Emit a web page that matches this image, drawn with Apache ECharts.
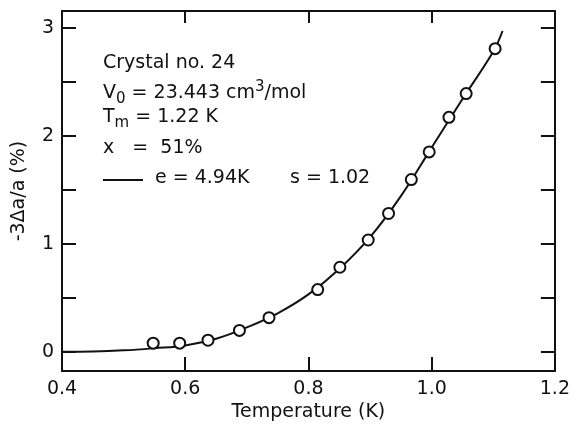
<!DOCTYPE html>
<html>
<head>
<meta charset="utf-8">
<script src="https://cdn.jsdelivr.net/npm/echarts@6/dist/echarts.min.js"></script>
<style>
  html, body { margin: 0; padding: 0; background: #fff; }
  #main { width: 573px; height: 427px; }
</style>
</head>
<body>
<div id="main"></div>
<script>
// measured points (circles)
var tempPoints = [0.548, 0.591, 0.637, 0.688, 0.736, 0.815, 0.851, 0.897, 0.930, 0.967, 0.996, 1.028, 1.056, 1.103];
var strainPoints = [0.079, 0.079, 0.106, 0.197, 0.315, 0.575, 0.782, 1.034, 1.28, 1.594, 1.85, 2.17, 2.39, 2.806];

// fitted curve
var curveT = [0.40, 0.45, 0.50, 0.55, 0.60, 0.65, 0.70, 0.75, 0.80, 0.85, 0.90, 0.95, 1.00, 1.05, 1.10, 1.115];
var curveY = [0.0, 0.002, 0.012, 0.032, 0.058, 0.12, 0.225, 0.355, 0.53, 0.765, 1.06, 1.44, 1.89, 2.34, 2.78, 2.97];

var yTicks = [0, 0.5, 1, 1.5, 2, 2.5, 3];
var yLabels = [0, 1, 2, 3];

var font = 'DejaVu Sans';
var ink = '#111';

var myChart = echarts.init(document.getElementById('main'));

function zip(a, b) {
  return a.map(function (v, i) { return [v, b[i]]; });
}

var frameLine = { onZero: false, lineStyle: { color: ink, width: 2 } };

var option = {
  backgroundColor: '#fff',
  animation: false,
  grid: { left: 62, right: 16, top: 11, bottom: 51 },
  xAxis: [
    {
      type: 'value', min: 0.4, max: 1.2, interval: 0.2,
      name: 'Temperature (K)', nameLocation: 'middle', nameGap: 27,
      nameTextStyle: { fontFamily: font, fontSize: 19, color: ink },
      axisLine: frameLine,
      axisTick: { inside: true, length: 14, lineStyle: { color: ink, width: 2 } },
      axisLabel: {
        margin: 8, fontFamily: font, fontSize: 19, color: ink,
        formatter: function (v) { return v.toFixed(1); }
      },
      splitLine: { show: false }
    },
    {
      type: 'value', position: 'top', min: 0.4, max: 1.2, interval: 0.2,
      axisLine: frameLine,
      axisTick: { inside: true, length: 12, lineStyle: { color: ink, width: 2 } },
      axisLabel: { show: false },
      splitLine: { show: false }
    }
  ],
  yAxis: [
    {
      type: 'value', min: -0.18, max: 3.155,
      name: '-3\u0394a/a (%)', nameLocation: 'middle', nameGap: 33,
      nameTextStyle: { fontFamily: font, fontSize: 19, color: ink },
      axisLine: frameLine,
      axisTick: { inside: true, length: 14, customValues: yTicks, lineStyle: { color: ink, width: 2 } },
      axisLabel: { margin: 8, fontFamily: font, fontSize: 19, color: ink, customValues: yLabels },
      splitLine: { show: false }
    },
    {
      type: 'value', position: 'right', min: -0.18, max: 3.155,
      axisLine: frameLine,
      axisTick: { inside: true, length: 14, customValues: yTicks, lineStyle: { color: ink, width: 2 } },
      axisLabel: { show: false },
      splitLine: { show: false }
    }
  ],
  series: [
    {
      type: 'line',
      data: zip(curveT, curveY),
      smooth: 0.4,
      showSymbol: false,
      lineStyle: { color: ink, width: 2 },
      z: 2
    },
    {
      type: 'scatter',
      data: zip(tempPoints, strainPoints),
      symbol: 'circle',
      symbolSize: 11,
      itemStyle: { color: '#fff', opacity: 1, borderColor: ink, borderWidth: 2 },
      z: 3
    }
  ],
  graphic: [
    {
      type: 'text', left: 103, top: 54,
      style: { text: 'Crystal no. 24', font: '19px "DejaVu Sans"', fill: ink }
    },
    {
      type: 'text', left: 103, top: 80,
      style: {
        text: '{n|V}{sub|0}{n| = 23.443 cm}{sup|3}{n|/mol}',
        fill: ink,
        rich: {
          n: { fontFamily: font, fontSize: 19, lineHeight: 27, verticalAlign: 'middle' },
          sub: { fontFamily: font, fontSize: 15, lineHeight: 27, verticalAlign: 'bottom' },
          sup: { fontFamily: font, fontSize: 15, lineHeight: 27, verticalAlign: 'top' }
        }
      }
    },
    {
      type: 'text', left: 103, top: 108,
      style: {
        text: '{n|T}{sub|m}{n| = 1.22 K}',
        fill: ink,
        rich: {
          n: { fontFamily: font, fontSize: 19, lineHeight: 27, verticalAlign: 'middle' },
          sub: { fontFamily: font, fontSize: 15, lineHeight: 27, verticalAlign: 'bottom' }
        }
      }
    },
    {
      type: 'text', left: 103, top: 139,
      style: { text: 'x   =  51%', font: '19px "DejaVu Sans"', fill: ink }
    },
    {
      type: 'line',
      shape: { x1: 103, y1: 180, x2: 143, y2: 180 },
      style: { stroke: ink, lineWidth: 2 }
    },
    {
      type: 'text', left: 155, top: 169,
      style: { text: 'e = 4.94K', font: '19px "DejaVu Sans"', fill: ink }
    },
    {
      type: 'text', left: 290, top: 169,
      style: { text: 's = 1.02', font: '19px "DejaVu Sans"', fill: ink }
    }
  ]
};

myChart.setOption(option);
</script>
</body>
</html>
